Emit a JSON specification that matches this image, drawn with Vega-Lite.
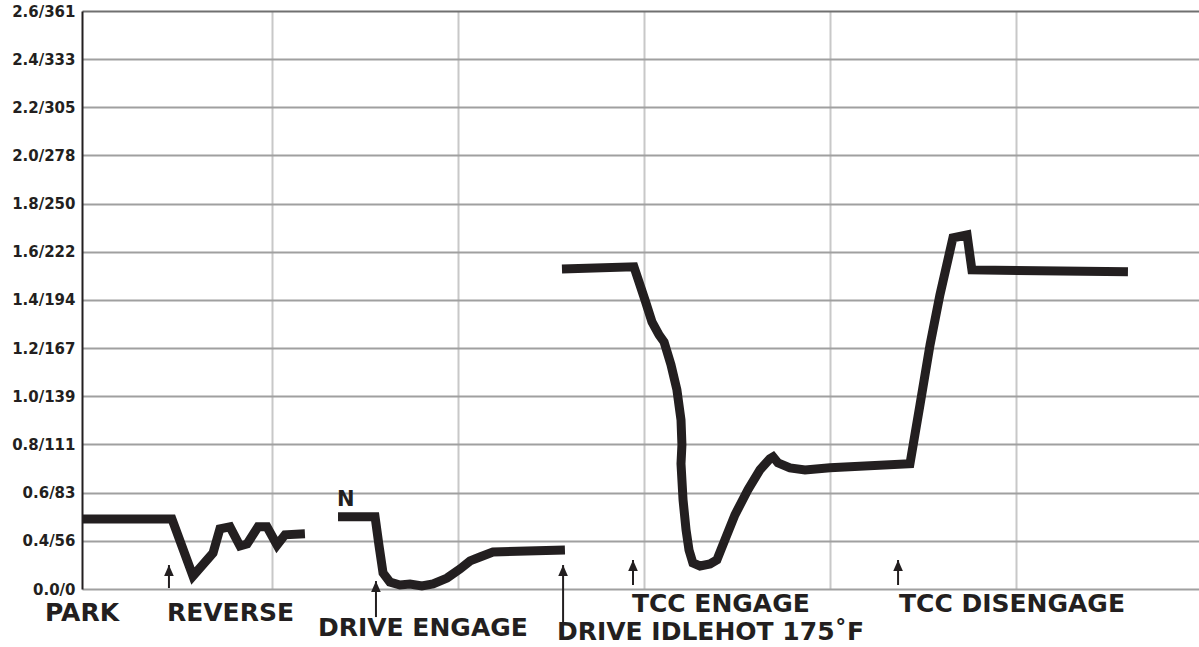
{
  "$schema": "https://vega.github.io/schema/vega-lite/v6.json",
  "width": 1117,
  "height": 578,
  "autosize": "none",
  "padding": {"left": 82, "top": 11, "right": 0, "bottom": 58},
  "background": "white",
  "config": {"view": {"stroke": null}, "font": "DejaVu Sans"},
  "datasets": {
    "curve": [
      {"seg": "A", "i": 1, "t": -0.215, "p": 0.491},
      {"seg": "A", "i": 2, "t": 4.62, "p": 0.491},
      {"seg": "A", "i": 3, "t": 5.75, "p": 0.108},
      {"seg": "A", "i": 4, "t": 6.83, "p": 0.299},
      {"seg": "A", "i": 5, "t": 7.2, "p": 0.45},
      {"seg": "A", "i": 6, "t": 7.74, "p": 0.458},
      {"seg": "A", "i": 7, "t": 8.28, "p": 0.357},
      {"seg": "A", "i": 8, "t": 8.66, "p": 0.374},
      {"seg": "A", "i": 9, "t": 9.25, "p": 0.458},
      {"seg": "A", "i": 10, "t": 9.73, "p": 0.458},
      {"seg": "A", "i": 11, "t": 10.27, "p": 0.365},
      {"seg": "A", "i": 12, "t": 10.7, "p": 0.425},
      {"seg": "A", "i": 13, "t": 11.77, "p": 0.429},
      {"seg": "B", "i": 1, "t": 13.55, "p": 0.5},
      {"seg": "B", "i": 2, "t": 15.54, "p": 0.5},
      {"seg": "B", "i": 3, "t": 15.75, "p": 0.365},
      {"seg": "B", "i": 4, "t": 15.97, "p": 0.133},
      {"seg": "B", "i": 5, "t": 16.34, "p": 0.058},
      {"seg": "B", "i": 6, "t": 16.88, "p": 0.033},
      {"seg": "B", "i": 7, "t": 17.42, "p": 0.042},
      {"seg": "B", "i": 8, "t": 18.06, "p": 0.025},
      {"seg": "B", "i": 9, "t": 18.66, "p": 0.042},
      {"seg": "B", "i": 10, "t": 19.41, "p": 0.091},
      {"seg": "B", "i": 11, "t": 20.11, "p": 0.166},
      {"seg": "B", "i": 12, "t": 20.65, "p": 0.233},
      {"seg": "B", "i": 13, "t": 21.18, "p": 0.266},
      {"seg": "B", "i": 14, "t": 21.88, "p": 0.307},
      {"seg": "B", "i": 15, "t": 25.75, "p": 0.324},
      {"seg": "C", "i": 1, "t": 25.59, "p": 1.529},
      {"seg": "C", "i": 2, "t": 29.46, "p": 1.538},
      {"seg": "C", "i": 3, "t": 30.05, "p": 1.401},
      {"seg": "C", "i": 4, "t": 30.43, "p": 1.309},
      {"seg": "C", "i": 5, "t": 30.81, "p": 1.255},
      {"seg": "C", "i": 6, "t": 31.08, "p": 1.226},
      {"seg": "C", "i": 7, "t": 31.45, "p": 1.131},
      {"seg": "C", "i": 8, "t": 31.77, "p": 1.027},
      {"seg": "C", "i": 9, "t": 31.99, "p": 0.902},
      {"seg": "C", "i": 10, "t": 32.04, "p": 0.799},
      {"seg": "C", "i": 11, "t": 31.99, "p": 0.72},
      {"seg": "C", "i": 12, "t": 32.1, "p": 0.57},
      {"seg": "C", "i": 13, "t": 32.26, "p": 0.446},
      {"seg": "C", "i": 14, "t": 32.42, "p": 0.324},
      {"seg": "C", "i": 15, "t": 32.63, "p": 0.216},
      {"seg": "C", "i": 16, "t": 33.01, "p": 0.191},
      {"seg": "C", "i": 17, "t": 33.55, "p": 0.208},
      {"seg": "C", "i": 18, "t": 33.92, "p": 0.241},
      {"seg": "C", "i": 19, "t": 34.35, "p": 0.404},
      {"seg": "C", "i": 20, "t": 34.89, "p": 0.508},
      {"seg": "C", "i": 21, "t": 35.59, "p": 0.612},
      {"seg": "C", "i": 22, "t": 36.24, "p": 0.695},
      {"seg": "C", "i": 23, "t": 36.77, "p": 0.741},
      {"seg": "C", "i": 24, "t": 36.94, "p": 0.749},
      {"seg": "C", "i": 25, "t": 37.2, "p": 0.724},
      {"seg": "C", "i": 26, "t": 37.85, "p": 0.703},
      {"seg": "C", "i": 27, "t": 38.66, "p": 0.694},
      {"seg": "C", "i": 28, "t": 40.0, "p": 0.703},
      {"seg": "C", "i": 29, "t": 44.3, "p": 0.72},
      {"seg": "C", "i": 30, "t": 44.84, "p": 0.965},
      {"seg": "C", "i": 31, "t": 45.38, "p": 1.214},
      {"seg": "C", "i": 32, "t": 45.91, "p": 1.421},
      {"seg": "C", "i": 33, "t": 46.61, "p": 1.658},
      {"seg": "C", "i": 34, "t": 47.37, "p": 1.67},
      {"seg": "C", "i": 35, "t": 47.63, "p": 1.525},
      {"seg": "C", "i": 36, "t": 56.02, "p": 1.517}
    ],
    "arrows": [
      {"t": 4.46, "tip": 0.199, "base": 0.008},
      {"t": 15.59, "tip": 0.066, "base": -0.233},
      {"t": 25.65, "tip": 0.199, "base": -0.274},
      {"t": 29.41, "tip": 0.241, "base": 0.033},
      {"t": 43.66, "tip": 0.241, "base": 0.033}
    ],
    "events": [
      {"label": "PARK", "t": -2.2, "p": -0.203},
      {"label": "REVERSE", "t": 4.35, "p": -0.203},
      {"label": "DRIVE ENGAGE", "t": 12.47, "p": -0.328},
      {"label": "DRIVE IDLEHOT 175˚F", "t": 25.32, "p": -0.355},
      {"label": "TCC ENGAGE", "t": 29.35, "p": -0.125},
      {"label": "TCC DISENGAGE", "t": 43.71, "p": -0.125}
    ],
    "markers": [
      {"label": "N", "t": 13.49, "p": 0.568}
    ]
  },
  "layer": [
    {
      "data": {"name": "curve"},
      "mark": {"type": "line", "strokeWidth": 9, "color": "#231f20", "strokeJoin": "miter", "strokeCap": "butt", "clip": false},
      "encoding": {
        "x": {
          "field": "t", "type": "quantitative",
          "scale": {"domain": [-0.215, 59.84], "nice": false, "zero": false},
          "axis": {"values": [10, 20, 30, 40, 50], "grid": true, "gridColor": "#c8c8c8", "gridWidth": 2, "labels": false, "ticks": false, "domain": false, "title": null}
        },
        "y": {
          "field": "p", "type": "quantitative",
          "scale": {"domain": [0, 0.4, 2.6], "range": [578, 529.83, 0], "nice": false, "zero": false},
          "axis": {
            "values": [0, 0.4, 0.6, 0.8, 1.0, 1.2, 1.4, 1.6, 1.8, 2.0, 2.2, 2.4, 2.6],
            "labelExpr": "format(datum.value, '.1f') + '/' + round(datum.value * 138.8)",
            "labelFont": "DejaVu Sans", "labelFontWeight": "bold", "labelFontSize": 15, "labelColor": "#231f20",
            "labelPadding": 7, "ticks": false, "domain": true, "domainColor": "#231f20", "domainWidth": 2,
            "grid": true, "gridWidth": 2,
            "gridColor": {"condition": {"test": "datum.value == 2.6", "value": "#707070"}, "value": "#a0a0a0"},
            "title": null
          }
        },
        "detail": {"field": "seg"},
        "order": {"field": "i"}
      }
    },
    {
      "data": {"name": "arrows"},
      "mark": {"type": "rule", "strokeWidth": 2, "color": "#231f20", "clip": false},
      "encoding": {
        "x": {"field": "t", "type": "quantitative"},
        "y": {"field": "tip", "type": "quantitative"},
        "y2": {"field": "base"}
      }
    },
    {
      "data": {"name": "arrows"},
      "mark": {"type": "point", "shape": "M0,-1L0.7,0.6L-0.7,0.6Z", "size": 190, "filled": true, "opacity": 1, "color": "#231f20", "yOffset": 6.9, "clip": false},
      "encoding": {
        "x": {"field": "t", "type": "quantitative"},
        "y": {"field": "tip", "type": "quantitative"}
      }
    },
    {
      "data": {"name": "events"},
      "mark": {"type": "text", "align": "left", "baseline": "middle", "font": "DejaVu Sans", "fontWeight": "bold", "fontSize": 25, "color": "#231f20", "clip": false},
      "encoding": {
        "x": {"field": "t", "type": "quantitative"},
        "y": {"field": "p", "type": "quantitative"},
        "text": {"field": "label"}
      }
    },
    {
      "data": {"name": "markers"},
      "mark": {"type": "text", "align": "left", "baseline": "middle", "font": "DejaVu Sans", "fontWeight": "bold", "fontSize": 21, "color": "#231f20", "clip": false},
      "encoding": {
        "x": {"field": "t", "type": "quantitative"},
        "y": {"field": "p", "type": "quantitative"},
        "text": {"field": "label"}
      }
    }
  ]
}
